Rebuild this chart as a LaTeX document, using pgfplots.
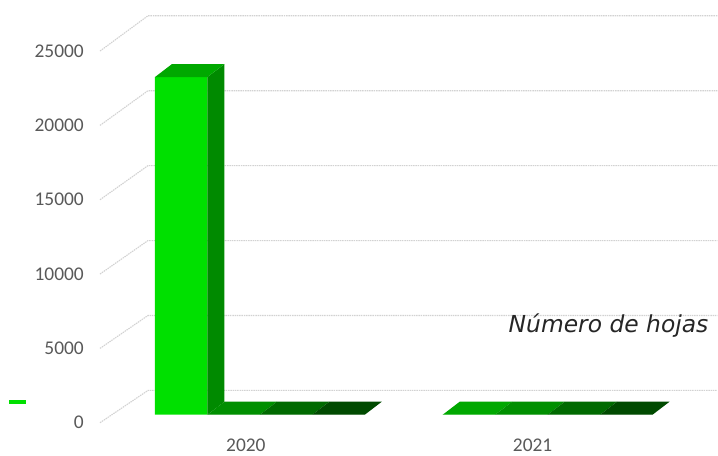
\documentclass[border=0pt]{standalone}
\usepackage{pgfplots}
\usepackage{pgfplotstable}
\pgfplotsset{compat=1.18}
\usepackage{fontspec}
\setmainfont{Carlito}
\newfontfamily\verd{DejaVu Sans}
\definecolor{tickgray}{HTML}{595959}
\definecolor{gridc}{HTML}{D2D2D2}
\definecolor{cfront}{HTML}{00E000}
\definecolor{ctop}{HTML}{00A800}
\definecolor{cside}{HTML}{008A00}
\definecolor{ctwo}{HTML}{008F00}
\definecolor{cthree}{HTML}{006A00}
\definecolor{cfour}{HTML}{004A00}

% x = pixel position of group centre, values per series
\pgfplotstableread{
x   s1    s2 s3 s4
260 22650 0  0  0
548 0     0  0  0
}\datatable

\begin{document}
\begin{tikzpicture}
\begin{axis}[
  scale only axis,
  width=718bp, height=456bp,
  xmin=0, xmax=718,
  ymin=-2748, ymax=27813,
  axis line style={draw=none},
  major tick length=0pt,
  scaled ticks=false,
  ytick={-536,4450,9436,14423,19409,24395},
  yticklabels={0,5000,10000,15000,20000,25000},
  xtick={246,533},
  xticklabels={2020,2021},
  /pgf/number format/assume math mode=true,
  tick label style={font=\fontsize{19.5}{21}\selectfont, text=tickgray},
  yticklabel style={anchor=east, inner sep=0pt, xshift=84bp},
  xticklabel style={anchor=center, inner sep=0pt, yshift=10.5bp},
  clip=false,
]
% back wall grid lines and side wall diagonals
\foreach \f/\b in {-536/1629, 4450/6656, 9436/11682, 14423/16709, 19409/21735, 24395/26762}{
  \edef\tmp{\noexpand\draw[gridc, line width=1.1bp, dash pattern=on 1.5bp off 0.8bp] (axis cs:100,\f) -- (axis cs:148,\b) -- (axis cs:718,\b);}
  \tmp
}

% front faces
\addplot[ybar, bar width=52.5, bar shift=-78.75, fill=cfront, draw=none] table[x=x, y=s1] {\datatable};
\addplot[ybar, bar width=52.5, bar shift=-26.25, fill=ctwo, draw=none] table[x=x, y=s2] {\datatable};
\addplot[ybar, bar width=52.5, bar shift=26.25, fill=cthree, draw=none] table[x=x, y=s3] {\datatable};
\addplot[ybar, bar width=52.5, bar shift=78.75, fill=cfour, draw=none] table[x=x, y=s4] {\datatable};

% 2020 series 1: side and top
\addplot[fill=cside, draw=none] coordinates {(207.5,0) (224.5,871) (224.5,23521) (207.5,22650)} --cycle;
\addplot[fill=ctop, draw=none] coordinates {(155,22650) (172,23521) (224.5,23521) (207.5,22650)} --cycle;
% 2020 series 2-4 tops (value 0)
\addplot[fill=ctwo, draw=none] coordinates {(207.5,0) (224.5,871) (277,871) (260,0)} --cycle;
\addplot[fill=cthree, draw=none] coordinates {(260,0) (277,871) (329.5,871) (312.5,0)} --cycle;
\addplot[fill=cfour, draw=none] coordinates {(312.5,0) (329.5,871) (382,871) (365,0)} --cycle;
% 2021 tops (value 0)
\addplot[fill=ctop, draw=none] coordinates {(443,0) (460,871) (512.5,871) (495.5,0)} --cycle;
\addplot[fill=ctwo, draw=none] coordinates {(495.5,0) (512.5,871) (565,871) (548,0)} --cycle;
\addplot[fill=cthree, draw=none] coordinates {(548,0) (565,871) (617.5,871) (600.5,0)} --cycle;
\addplot[fill=cfour, draw=none] coordinates {(600.5,0) (617.5,871) (670,871) (653,0)} --cycle;

% legend key dash
\fill[cfront] (axis cs:9,737) rectangle (axis cs:26,1005);
% series label
\node[font=\verd\itshape\fontsize{23.5}{25}\selectfont, text=black!85, anchor=center] at (axis cs:609,5965) {Número de hojas};
\end{axis}
\end{tikzpicture}
\end{document}
